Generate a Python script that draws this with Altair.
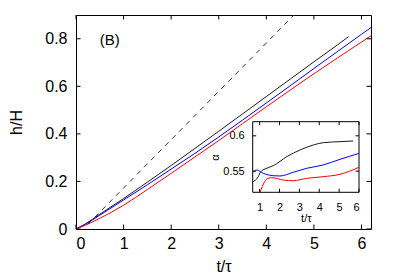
import altair as alt
import pandas as pd

# ---- main panel data: h/H versus t/tau ----
t_black = [0, 0.2, 0.5, 1.0, 1.5, 2.0, 2.5, 3.0, 3.5, 4.0, 4.5, 5.0, 5.5, 5.73]
h_black = [0, 0.022, 0.062, 0.128, 0.197, 0.267, 0.339, 0.411, 0.484, 0.557, 0.630, 0.703, 0.775, 0.809]
t_blue = [0, 0.2, 0.5, 1.0, 1.5, 2.0, 2.5, 3.0, 3.5, 4.0, 4.5, 5.0, 5.5, 6.0, 6.2]
h_blue = [0, 0.020, 0.058, 0.122, 0.186, 0.252, 0.318, 0.387, 0.458, 0.530, 0.602, 0.675, 0.747, 0.819, 0.847]
t_red = [0, 0.2, 0.5, 1.0, 1.5, 2.0, 2.5, 3.0, 3.5, 4.0, 4.5, 5.0, 5.5, 6.0, 6.2]
h_red = [0, 0.016, 0.045, 0.100, 0.166, 0.234, 0.303, 0.372, 0.443, 0.514, 0.584, 0.653, 0.720, 0.786, 0.813]
t_dash = [0.25, 4.58]
h_dash = [0.02, 0.90]

# ---- inset data: alpha versus t/tau ----
ti_black = [0.65, 0.93, 1.05, 1.27, 1.69, 2.36, 3.03, 3.70, 4.20, 5.04, 5.71]
a_black = [0.535, 0.542, 0.549, 0.553, 0.5577, 0.5704, 0.5799, 0.587, 0.5903, 0.5917, 0.5927]
ti_blue = [0.65, 0.85, 1.18, 1.69, 2.02, 2.69, 3.37, 4.20, 5.04, 6.0]
a_blue = [0.5483, 0.5516, 0.5469, 0.5435, 0.5431, 0.5483, 0.554, 0.5587, 0.5667, 0.5752]
ti_red = [1.02, 1.25, 1.35, 1.61, 2.19, 2.69, 3.37, 4.20, 5.04, 6.0]
a_red = [0.520, 0.535, 0.5388, 0.5407, 0.5374, 0.5364, 0.5398, 0.5421, 0.5455, 0.5554]

series_names = ["black", "blue", "red"]
series_colors = ["#1a1a1a", "#0000ff", "#ff0000"]

main_x_ticks = [0, 1, 2, 3, 4, 5, 6]
main_y_ticks = [0, 0.2, 0.4, 0.6, 0.8]
main_x_domain = [0, 6.2]
main_y_domain = [0, 0.9]
inset_x_ticks = [1, 2, 3, 4, 5, 6]
inset_y_ticks = [0.55, 0.6]
inset_x_domain = [0.65, 6.0]
inset_y_domain = [0.52, 0.62]
panel_label = ["(B)"]
panel_label_pos = [0.71, 0.793]

W, H = 295, 214
INSET_X_RANGE = [176.7, 283]
INSET_Y_RANGE = [177.3, 106.7]
FONT = "Liberation Sans"


def frame(ts, vs, name):
    return pd.DataFrame({"t": ts, "v": vs, "s": name})


main_df = pd.concat([
    frame(t_black, h_black, "black"),
    frame(t_blue, h_blue, "blue"),
    frame(t_red, h_red, "red"),
])
dash_df = pd.DataFrame({"t": t_dash, "v": h_dash})
inset_df = pd.concat([
    frame(ti_black, a_black, "black"),
    frame(ti_blue, a_blue, "blue"),
    frame(ti_red, a_red, "red"),
])

color = alt.Color("s:N", scale=alt.Scale(domain=series_names, range=series_colors), legend=None)


def msx():
    return alt.Scale(domain=main_x_domain, nice=False, zero=False)


def msy():
    return alt.Scale(domain=main_y_domain, nice=False, zero=False)


def isx():
    return alt.Scale(domain=inset_x_domain, range=INSET_X_RANGE, nice=False, zero=False)


def isy():
    return alt.Scale(domain=inset_y_domain, range=INSET_Y_RANGE, nice=False, zero=False)


x_axis = alt.Axis(values=main_x_ticks, ticks=False, domain=False, grid=False, orient="bottom",
                  labelFontSize=16, labelPadding=6, labelFont=FONT, labelColor="black",
                  title="t/τ", titleFont=FONT, titleFontSize=16, titleFontWeight="normal",
                  titlePadding=7, titleColor="black")
y_axis = alt.Axis(values=main_y_ticks, ticks=False, domain=False, grid=False, format="~g", orient="left",
                  labelFontSize=16, labelPadding=9, labelFont=FONT, labelColor="black",
                  title="h/H", titleFont=FONT, titleFontSize=16, titleFontWeight="normal",
                  titlePadding=20, titleColor="black")

lines = alt.Chart(main_df).mark_line(strokeWidth=1, interpolate="monotone").encode(
    x=alt.X("t:Q", scale=msx(), axis=x_axis),
    y=alt.Y("v:Q", scale=msy(), axis=y_axis),
    color=color, detail="s:N")
dashed = alt.Chart(dash_df).mark_line(strokeWidth=1, color="#333333", strokeDash=[5, 5]).encode(
    x=alt.X("t:Q", scale=msx(), axis=None), y=alt.Y("v:Q", scale=msy(), axis=None))

xt_df = pd.DataFrame({"t": main_x_ticks})
yt_df = pd.DataFrame({"v": main_y_ticks})
TL = 4.5


def xticks(df, sx, sy, yval, off):
    return alt.Chart(df).mark_rule(color="black", strokeWidth=1, y2Offset=off).encode(
        x=alt.X("t:Q", scale=sx, axis=None),
        y=alt.YDatum(yval, type="quantitative", scale=sy, axis=None),
        y2=alt.Y2Datum(yval))


def yticks(df, sx, sy, xval, off):
    return alt.Chart(df).mark_rule(color="black", strokeWidth=1, x2Offset=off).encode(
        y=alt.Y("v:Q", scale=sy, axis=None),
        x=alt.XDatum(xval, type="quantitative", scale=sx, axis=None),
        x2=alt.X2Datum(xval))


label = alt.Chart(pd.DataFrame({"lab": panel_label})).mark_text(
    font=FONT, fontSize=15, color="black", align="center", baseline="middle").encode(
    x=alt.XDatum(panel_label_pos[0], type="quantitative", scale=msx(), axis=None),
    y=alt.YDatum(panel_label_pos[1], type="quantitative", scale=msy(), axis=None),
    text="lab:N")

# ---------- inset ----------
ix_axis = alt.Axis(orient="bottom", offset=-36.7, values=inset_x_ticks, ticks=False, domain=False,
                   grid=False, labelFontSize=11, labelPadding=9, labelFont=FONT, labelColor="black",
                   title="t/τ", titleFont=FONT, titleFontSize=11, titleFontWeight="normal",
                   titlePadding=0, titleColor="black")
iy_axis = alt.Axis(orient="left", offset=-176.7, values=inset_y_ticks, ticks=False, domain=False,
                   grid=False, format="~g", labelFontSize=11, labelPadding=8.5, labelFont=FONT,
                   labelColor="black", title="α", titleFont=FONT, titleFontSize=11,
                   titleFontWeight="normal", titlePadding=2, titleColor="black")

box = alt.Chart(pd.DataFrame({"k": [0]})).mark_rect(fill="white", stroke="black", strokeWidth=1).encode(
    x=alt.XDatum(inset_x_domain[0], type="quantitative", scale=isx(), axis=None),
    x2=alt.X2Datum(inset_x_domain[1]),
    y=alt.YDatum(inset_y_domain[0], type="quantitative", scale=isy(), axis=None),
    y2=alt.Y2Datum(inset_y_domain[1]))

ilines = alt.Chart(inset_df).mark_line(strokeWidth=1, interpolate="monotone").encode(
    x=alt.X("t:Q", scale=isx(), axis=ix_axis),
    y=alt.Y("v:Q", scale=isy(), axis=iy_axis),
    color=color, detail="s:N")

ixt_df = pd.DataFrame({"t": inset_x_ticks})
iyt_df = pd.DataFrame({"v": inset_y_ticks})
ITL = 3.5

layers = [
    lines, dashed,
    xticks(xt_df, msx(), msy(), main_y_domain[0], -TL),
    xticks(xt_df, msx(), msy(), main_y_domain[1], TL),
    yticks(yt_df, msx(), msy(), main_x_domain[0], TL),
    yticks(yt_df, msx(), msy(), main_x_domain[1], -TL),
    label,
    box, ilines,
    xticks(ixt_df, isx(), isy(), inset_y_domain[0], -ITL),
    xticks(ixt_df, isx(), isy(), inset_y_domain[1], ITL),
    yticks(iyt_df, isx(), isy(), inset_x_domain[0], ITL),
    yticks(iyt_df, isx(), isy(), inset_x_domain[1], -ITL),
]

chart = alt.layer(*layers).resolve_scale(x="independent", y="independent").resolve_axis(
    x="independent", y="independent").properties(
    width=W, height=H,
    autosize=alt.AutoSizeParams(type="none"),
    padding={"left": 68, "top": 7, "right": 20, "bottom": 50},
    background="white",
).configure_view(stroke="black", strokeWidth=1)

chart.save("out.html", embed_options={"renderer": "svg", "actions": False})
